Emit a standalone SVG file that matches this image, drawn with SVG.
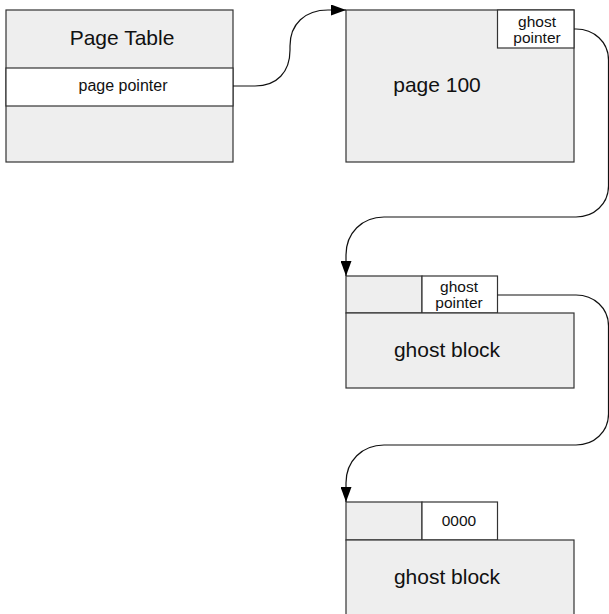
<svg xmlns="http://www.w3.org/2000/svg" width="609" height="614" viewBox="0 0 609 614">
<style>
.box{fill:#eeeeee;stroke:#333333;stroke-width:1.2}
.wbox{fill:#ffffff;stroke:#333333;stroke-width:1.2}
.big{font-family:"Liberation Sans",Arial,sans-serif;font-size:21px;fill:#111;text-anchor:middle}
.sm{font-family:"Liberation Sans",Arial,sans-serif;font-size:15.5px;fill:#111;text-anchor:middle}
.conn{fill:none;stroke:#111;stroke-width:1.2}
</style>
<defs>
<marker id="arr" markerWidth="15" markerHeight="11" refX="15" refY="5.5" orient="auto" markerUnits="userSpaceOnUse">
<path d="M0,0 L15,5.5 L0,11 z" fill="#000"/>
</marker>
</defs>
<g id="page-table">
<rect class="box" x="6" y="10" width="227" height="152"/>
<rect class="wbox" x="6" y="68" width="227" height="38"/>
<text class="big" x="122" y="45">Page Table</text>
<text class="sm" x="123" y="91" style="font-size:16px">page pointer</text>
</g>
<g id="page-100">
<rect class="box" x="346" y="10" width="228" height="152"/>
<rect class="wbox" x="497.5" y="10" width="76.5" height="38"/>
<text class="sm" x="537" y="27">ghost</text>
<text class="sm" x="537" y="43">pointer</text>
<text class="big" x="437" y="92">page 100</text>
</g>
<g id="ghost-block-1">
<rect class="box" x="346" y="276" width="76" height="37"/>
<rect class="wbox" x="422" y="276" width="75.5" height="37"/>
<rect class="box" x="346" y="313" width="228" height="75"/>
<text class="sm" x="459" y="292">ghost</text>
<text class="sm" x="459" y="308">pointer</text>
<text class="big" x="447" y="357">ghost block</text>
</g>
<g id="ghost-block-2">
<rect class="box" x="346" y="502" width="76" height="38"/>
<rect class="wbox" x="422" y="502" width="75.5" height="38"/>
<rect class="box" x="346" y="540" width="228" height="80"/>
<text class="sm" x="459" y="526">0000</text>
<text class="big" x="447" y="584">ghost block</text>
</g>
<g id="connectors">
<path class="conn" marker-end="url(#arr)" d="M233,86 L255,86 C277,86 290,72 290,50 L290,46 C290,24 305,10 328,10 L346,10"/>
<path class="conn" marker-end="url(#arr)" d="M574,29 L576,29 C594,29 608.5,42 608.5,60 L608.5,186 C608.5,204 594,217 576,217 L384,217 C362,217 346,233 346,255 L346,276"/>
<path class="conn" marker-end="url(#arr)" d="M497.5,295 L576,295 C594,295 608.5,308 608.5,326 L608.5,414 C608.5,432 594,445 576,445 L384,445 C362,445 346,461 346,483 L346,502"/>
</g>
</svg>
